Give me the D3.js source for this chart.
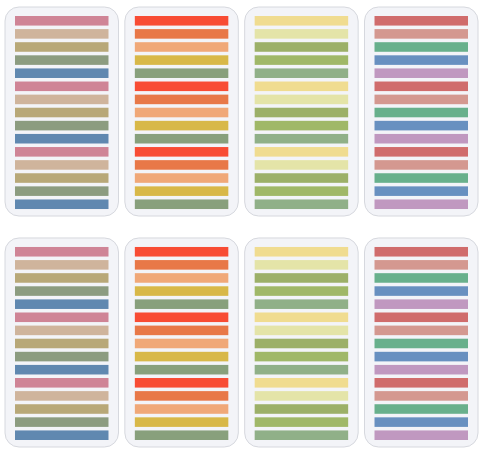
<!DOCTYPE html>
<html><head><meta charset="utf-8">
<script src="https://cdn.jsdelivr.net/npm/d3@7"></script>
<style>body{margin:0;background:#fff}</style>
</head><body>
<script>
// Colour sets for each sticky-note card, repeated 3 times down the card
const palettes = [
  ['#cf8496', '#cfb49c', '#b8a878', '#8c9c80', '#6088b0'],
  ['#f84c34', '#e87848', '#f0a878', '#d8b848', '#88a07c'],
  ['#f0dc90', '#e4e4a8', '#9cb068', '#a0b868', '#90b088'],
  ['#d06c6c', '#d49890', '#68b08c', '#6890c0', '#c098c0']
];
const rows = [0, 1];
const repeats = 3;

const width = 488, height = 456;
const svg = d3.select('body').append('svg')
  .attr('width', width).attr('height', height);

const cardX = d3.scaleBand().domain(d3.range(palettes.length))
  .range([5, 478]).paddingInner(0.053);
const cardY = d3.scaleBand().domain(rows).range([7, 447]).paddingInner(0.095);

rows.forEach(r => {
  palettes.forEach((pal, c) => {
    const x0 = cardX(c), y0 = cardY(r);
    const w = cardX.bandwidth(), h = cardY.bandwidth();
    const g = svg.append('g').attr('transform', `translate(${x0},${y0})`);
    g.append('rect')
      .attr('width', w).attr('height', h).attr('rx', 14)
      .attr('fill', '#f3f4f8').attr('stroke', '#d6d8de').attr('stroke-width', 1);
    const strips = d3.range(repeats).flatMap(() => pal);
    const sy = d3.scaleBand().domain(d3.range(strips.length))
      .range([9, h - 7]).paddingInner(0.27);
    g.selectAll('rect.strip').data(strips).enter().append('rect')
      .attr('class', 'strip')
      .attr('x', 10).attr('width', w - 20)
      .attr('y', (d, i) => sy(i)).attr('height', sy.bandwidth())
      .attr('fill', d => d);
  });
});
</script>
</body></html>
